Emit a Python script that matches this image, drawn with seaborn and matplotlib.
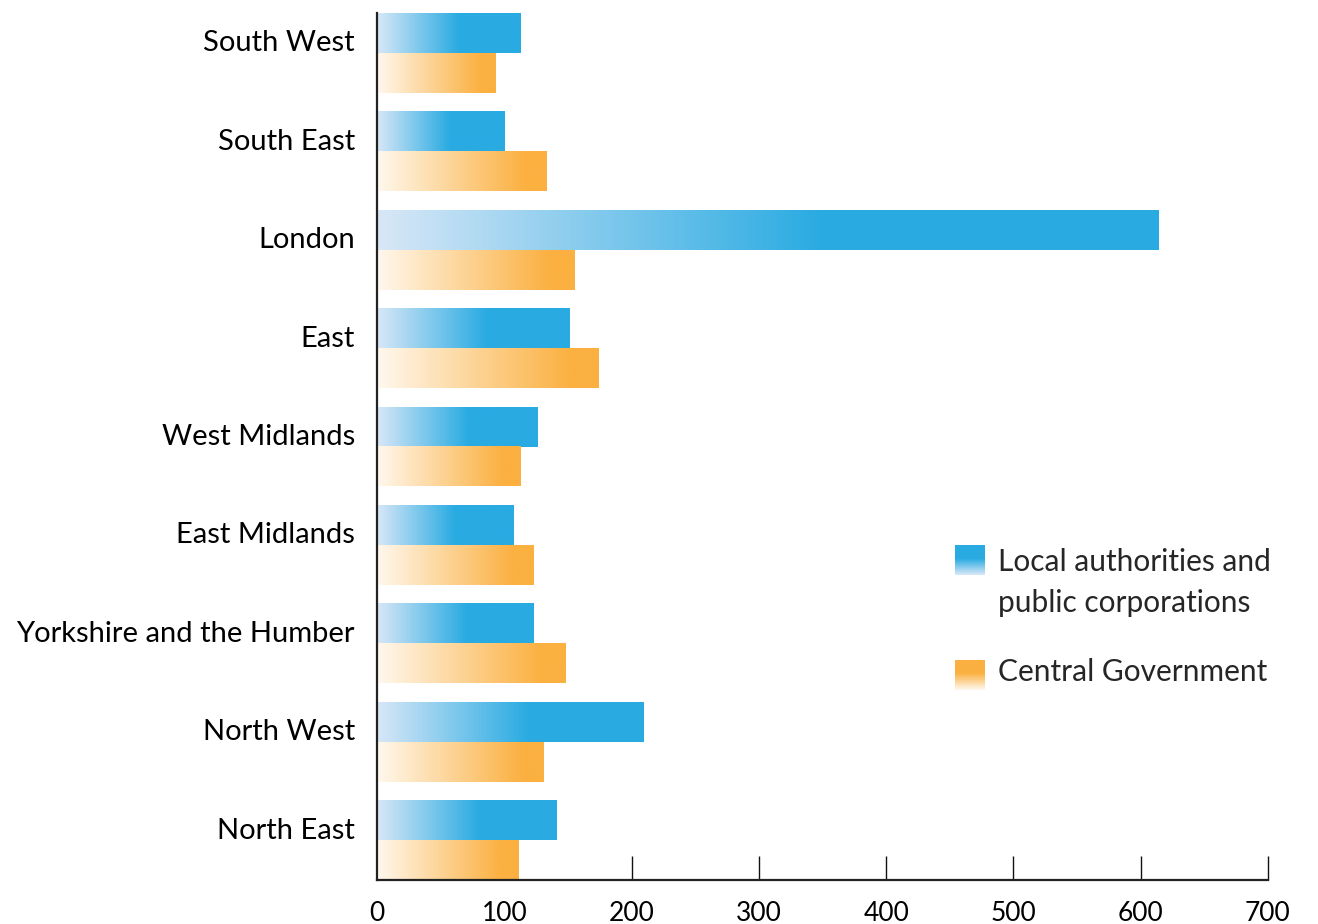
import numpy as np
import pandas as pd
import matplotlib
matplotlib.use('Agg')
import matplotlib.pyplot as plt
import matplotlib.transforms as mtransforms
import seaborn as sns
from matplotlib.colors import LinearSegmentedColormap

# data
regions = ['South West', 'South East', 'London', 'East', 'West Midlands',
           'East Midlands', 'Yorkshire and the Humber', 'North West', 'North East']
local_auth = [113, 100, 614, 151, 126, 107, 123, 209, 141]
central_gov = [93, 133, 155, 174, 113, 123, 148, 131, 111]
series = ['Local authorities and public corporations', 'Central Government']
x_ticks = [0, 100, 200, 300, 400, 500, 600, 700]

df = pd.DataFrame({
    'region': regions * 2,
    'value': local_auth + central_gov,
    'series': [series[0]] * len(regions) + [series[1]] * len(regions),
})

blue_cmap = LinearSegmentedColormap.from_list('blue', ['#d8e7f7', '#29abe2'])
orange_cmap = LinearSegmentedColormap.from_list('orange', ['#fff8ee', '#fbb040'])
cmaps = [blue_cmap, orange_cmap]
solid_at = [0.57, 0.88]  # fraction of bar length where the gradient reaches full colour

sns.set_style('white')
plt.rcParams['font.family'] = ['Lato', 'DejaVu Sans']

fig = plt.figure(figsize=(13.18, 9.24), dpi=100)
ax = fig.add_axes([377 / 1318, 1 - 880 / 924, 891 / 1318, 867 / 924])

sns.barplot(data=df, x='value', y='region', hue='series', order=regions,
            hue_order=series, orient='h', width=0.81,
            palette=['#29abe2', '#fbb040'], ax=ax, legend=False)

# swap each flat bar for a left-to-right gradient
for i, cont in enumerate(ax.containers):
    grad = np.clip(np.linspace(0, 1, 512) / solid_at[i], 0, 1).reshape(1, -1)
    for bar in cont:
        x0, y0 = bar.get_x(), bar.get_y()
        w, h = bar.get_width(), bar.get_height()
        ax.imshow(grad, extent=[x0, x0 + w, y0 + h, y0], aspect='auto',
                  cmap=cmaps[i], vmin=0, vmax=1, zorder=2, interpolation='bilinear')
        bar.set_visible(False)

ax.set_xlim(0, 700)
ax.set_ylim(len(regions) - 1 + 0.405, -0.405)
ax.set_xticks(x_ticks)
ax.set_xticklabels([str(t) for t in x_ticks])
ax.set_xlabel('')
ax.set_ylabel('')
sns.despine(ax=ax)
for side in ['left', 'bottom']:
    ax.spines[side].set_color('#222222')
    ax.spines[side].set_linewidth(1.6)
    ax.spines[side].set_zorder(5)
ax.tick_params(axis='x', bottom=True, direction='in', length=17, width=1,
               color='#111111', labelsize=19, pad=15, labelcolor='black')
ax.tick_params(axis='y', left=False, length=0, labelsize=21, pad=16, labelcolor='black')

# region names sit a little above the middle of each pair
shift = mtransforms.ScaledTranslation(0, 12 / 100, fig.dpi_scale_trans)
for lab in ax.get_yticklabels():
    lab.set_transform(lab.get_transform() + shift)

# legend: small squares with a vertical gradient
for j, (ytop, cmap) in enumerate([(545, blue_cmap), (660, orange_cmap)]):
    lax = fig.add_axes([955 / 1318, 1 - (ytop + 30) / 924, 30 / 1318, 30 / 924])
    vgrad = np.clip(np.linspace(1, 0, 64) / 0.55, 0, 1).reshape(-1, 1)
    lax.imshow(vgrad, aspect='auto', cmap=cmap, vmin=0, vmax=1, interpolation='bilinear')
    lax.set_axis_off()

fig.text(998 / 1318, 1 - 562 / 924, 'Local authorities and', fontsize=21.5, va='center')
fig.text(998 / 1318, 1 - 603 / 924, 'public corporations', fontsize=21.5, va='center')
fig.text(998 / 1318, 1 - 672 / 924, 'Central Government', fontsize=21.5, va='center')

fig.savefig('out.png', dpi=100)
